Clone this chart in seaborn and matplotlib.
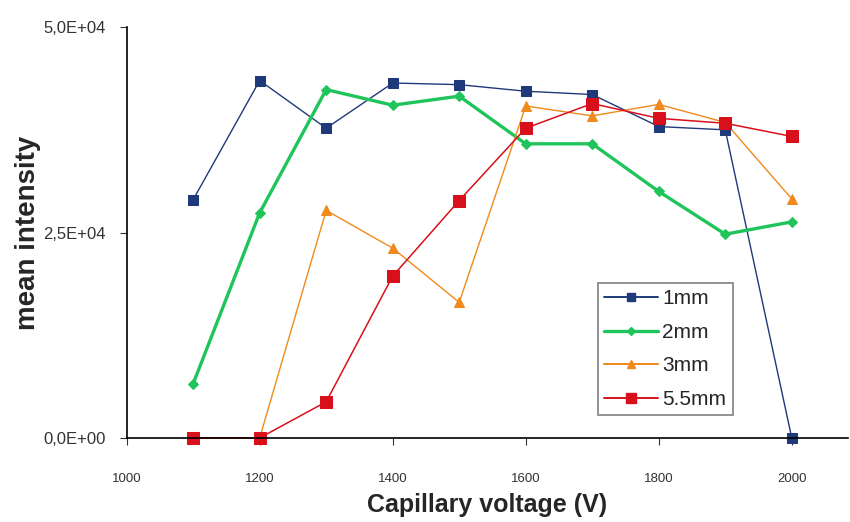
import pandas as pd
import matplotlib.pyplot as plt
import seaborn as sns
from matplotlib.ticker import FuncFormatter
from matplotlib.lines import Line2D

sns.set_style("white")
plt.rcParams['font.family'] = ['Liberation Sans', 'DejaVu Sans']

# Data
voltage = [1100, 1200, 1300, 1400, 1500, 1600, 1700, 1800, 1900, 2000]
mm1 = [29000, 43500, 37700, 43200, 43000, 42200, 41800, 37900, 37500, 0]
mm2 = [6600, 27400, 42400, 40500, 41600, 35800, 35800, 30000, 24800, 26300]
mm3 = [0, 0, 27700, 23100, 16500, 40400, 39200, 40600, 38400, 29100]
mm55 = [0, 0, 4400, 19700, 28900, 37700, 40700, 38900, 38300, 36700]

series = ['1mm', '2mm', '3mm', '5.5mm']
colors = ['#1f3a7a', '#1fc45a', '#f08a1c', '#d8101c']
markers = ['s', 'D', '^', 's']
msizes = [7, 5, 7, 8]
lwidths = [1.0, 2.4, 1.0, 1.1]

df = pd.DataFrame({'voltage': voltage * 4,
                   'intensity': mm1 + mm2 + mm3 + mm55,
                   'series': sum([[s] * len(voltage) for s in series], [])})

fig = plt.figure(figsize=(8.5, 5.22), dpi=100)
ax = fig.add_axes([0.149, 0.161, 0.849, 0.787])

for s, c, m, ms, lw in zip(series, colors, markers, msizes, lwidths):
    sub = df[df['series'] == s]
    sns.lineplot(data=sub, x='voltage', y='intensity', color=c, marker=m,
                 markersize=ms, linewidth=lw, markeredgecolor=c, ax=ax,
                 label=s, clip_on=False)

ax.set_xlim(1000, 2085)
ax.set_ylim(0, 50000)
ax.set_xticks([1000, 1200, 1400, 1600, 1800, 2000])
ax.set_yticks([0, 25000, 50000])
ax.yaxis.set_major_formatter(FuncFormatter(lambda v, p: f"{v:.1E}".replace('.', ',')))
ax.tick_params(axis='both', colors='#333333', length=5, direction='out',
               left=True, bottom=True)
ax.tick_params(axis='x', labelsize=9.5, pad=20)
ax.tick_params(axis='y', labelsize=12, pad=10)

sns.despine(ax=ax)
ax.spines['left'].set_color('black')
ax.spines['bottom'].set_color('black')
ax.spines['left'].set_linewidth(1.2)
ax.spines['bottom'].set_linewidth(1.2)

ax.set_xlabel('Capillary voltage (V)', fontsize=18, fontweight='bold', labelpad=6)
ax.set_ylabel('mean intensity', fontsize=20, fontweight='bold', labelpad=2)

handles = [Line2D([0], [0], color=c, marker=m, markersize=ms * 0.9, linewidth=max(lw, 1.4))
           for c, m, ms, lw in zip(colors, markers, msizes, lwidths)]
leg = ax.legend(handles, series, loc='upper left', bbox_to_anchor=(0.653, 0.377),
                borderaxespad=0, frameon=True, fancybox=False, fontsize=15,
                handlelength=2.6, borderpad=0.3, labelspacing=0.7, handletextpad=0.2)
leg.get_frame().set_edgecolor('#777777')
leg.get_frame().set_linewidth(1.4)

plt.savefig('out.png', dpi=100)
plt.close()
